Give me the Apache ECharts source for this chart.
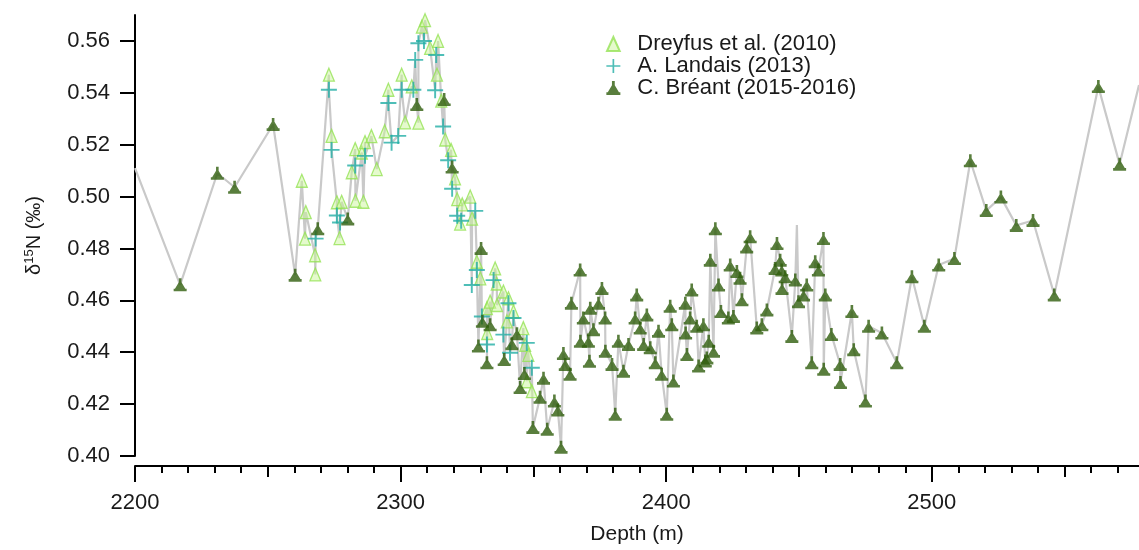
<!DOCTYPE html>
<html><head><meta charset="utf-8">
<script src="https://cdn.jsdelivr.net/npm/echarts@6/dist/echarts.min.js"></script>
<style>html,body{margin:0;padding:0;background:#fff}#c{width:1139px;height:550px}</style>
</head><body><div id="c"></div><script>
// ---- data: [depth (m), d15N (permil)] ----
const dreyfus = [
 [2262.8,0.5061],[2264.0,0.4838],[2264.3,0.494],[2267.8,0.4774],[2267.9,0.470],
 [2273.0,0.547],[2274.0,0.5234],[2276.0,0.4978],[2277.0,0.484],[2277.8,0.498],
 [2281.6,0.5094],[2282.9,0.5183],[2283.0,0.4984],[2285.4,0.517],[2286.0,0.498],
 [2286.6,0.521],[2289.0,0.5233],[2291.0,0.5106],[2294.0,0.5252],[2295.4,0.5412],
 [2300.4,0.547],[2301.7,0.5286],[2304.2,0.5425],[2306.7,0.5285],[2308.0,0.5655],
 [2309.2,0.568],[2311.1,0.5573],[2313.7,0.547],[2314.1,0.560],[2315.3,0.537],
 [2316.8,0.522],[2319.0,0.518],[2320.5,0.507],[2321.3,0.499],[2322.4,0.4896],
 [2323.2,0.497],[2326.2,0.500],[2326.9,0.4915],[2328.7,0.4749],[2330.0,0.4685],
 [2332.5,0.457],[2332.6,0.4474],[2333.7,0.4595],[2335.6,0.4723],[2336.2,0.4665],
 [2336.3,0.4582],[2338.7,0.4634],[2340.0,0.4519],[2340.6,0.4608],[2342.5,0.4557],
 [2346.2,0.4493],[2346.9,0.4429],[2347.5,0.4288],[2348.1,0.439],[2349.4,0.425]
];
const landais = [
 [2268.0,0.4838],[2273.0,0.5412],[2274.0,0.518],[2276.0,0.4927],[2277.2,0.490],
 [2282.9,0.512],[2286.6,0.5157],[2295.4,0.5361],[2296.6,0.5208],[2299.1,0.5234],
 [2300.4,0.5412],[2304.8,0.5412],[2305.5,0.5527],[2306.7,0.5591],[2308.8,0.560],
 [2313.0,0.541],[2313.4,0.5546],[2316.0,0.527],[2317.9,0.514],[2319.4,0.503],
 [2321.3,0.4926],[2322.8,0.4907],[2326.8,0.4659],[2328.1,0.4945],[2328.7,0.4717],
 [2330.6,0.4538],[2332.5,0.443],[2335.0,0.4678],[2338.7,0.4468],[2340.6,0.4589],
 [2341.2,0.4398],[2342.5,0.4532],[2347.5,0.4436],[2349.4,0.434]
];
const breant = [
 [2217.0,0.466],[2231.0,0.509],[2237.5,0.5036],[2252.0,0.5278],[2260.3,0.4697],
 [2268.8,0.4876],[2280.1,0.4914],[2306.1,0.5355],[2316.4,0.5374],[2319.4,0.5114],
 [2329.3,0.4424],[2330.3,0.480],[2330.8,0.4519],[2332.5,0.4359],[2333.7,0.4506],
 [2339.0,0.4372],[2341.9,0.4433],[2343.8,0.4471],[2345.0,0.4264],[2346.6,0.4318],
 [2349.8,0.411],[2352.5,0.4226],[2353.8,0.430],[2355.2,0.4103],[2357.9,0.4212],
 [2359.2,0.4177],[2360.4,0.4034],[2361.3,0.4395],[2362.0,0.4353],[2363.8,0.4315],
 [2364.3,0.4589],[2367.6,0.4717],[2367.7,0.4442],[2368.8,0.4532],[2370.7,0.4442],
 [2371.1,0.4365],[2371.4,0.457],[2372.6,0.4487],[2374.5,0.4589],[2375.8,0.4646],
 [2377.0,0.4532],[2377.1,0.4404],[2379.6,0.4353],[2380.8,0.4161],[2382.0,0.4442],
 [2383.9,0.4327],[2385.8,0.443],[2388.3,0.4532],[2388.9,0.4621],[2390.2,0.4493],
 [2391.5,0.443],[2392.7,0.4544],[2394.0,0.4417],[2395.9,0.4359],[2397.1,0.4481],
 [2398.3,0.4315],[2400.2,0.4161],[2401.5,0.4577],[2402.1,0.4506],[2402.7,0.4289],
 [2407.2,0.4589],[2407.3,0.4474],[2407.8,0.4391],[2409.0,0.4532],[2409.6,0.464],
 [2411.5,0.450],[2412.2,0.4347],[2414.0,0.4506],[2414.7,0.4366],[2415.3,0.4378],
 [2416.0,0.4442],[2416.6,0.4755],[2417.8,0.4404],[2418.5,0.4876],[2419.7,0.4659],
 [2420.6,0.4557],[2423.4,0.4532],[2424.1,0.4736],[2425.3,0.4538],[2426.6,0.4711],
 [2427.8,0.4685],[2428.5,0.4602],[2430.3,0.4806],[2431.6,0.4845],[2434.1,0.4493],
 [2436.0,0.4506],[2437.9,0.4563],[2441.0,0.4723],[2441.7,0.4819],[2442.9,0.4755],
 [2443.5,0.4717],[2443.6,0.4646],[2444.8,0.4691],[2447.3,0.4461],[2448.6,0.4678],
 [2449.8,0.4595],[2451.7,0.4621],[2452.9,0.4659],[2454.8,0.4359],[2456.1,0.4749],
 [2457.3,0.4717],[2459.2,0.4838],[2459.3,0.4334],[2459.9,0.4621],[2462.2,0.4468],
 [2465.5,0.4353],[2465.6,0.4283],[2469.9,0.4557],[2470.6,0.441],[2475.0,0.4212],
 [2476.2,0.450],[2481.2,0.4474],[2486.8,0.4359],[2492.5,0.4691],[2497.2,0.450],
 [2502.6,0.4736],[2508.5,0.4761],[2514.5,0.5138],[2520.5,0.4946],[2526.0,0.4998],
 [2531.8,0.4889],[2538.1,0.4908],[2546.1,0.4621],[2562.7,0.5424],[2570.7,0.5125]
];
// points of the grey connecting line that carry no marker
const lineOnly = [[2200.0,0.511],[2449.2,0.489],[2578.0,0.543]];

const seriesNames = ['Dreyfus et al. (2010)','A. Landais (2013)','C. Br\u00e9ant (2015-2016)'];
const yTicks = [0.40,0.42,0.44,0.46,0.48,0.50,0.52,0.54,0.56];
const xMajor = [2200,2300,2400,2500];
const xMid = [2250,2350,2450,2550];
const xMinor = [];
for (let v = 2210; v < 2578; v += 10) if (v % 50 !== 0) xMinor.push(v);

const allPts = dreyfus.concat(landais, breant, lineOnly).slice().sort((a,b)=>a[0]-b[0]);

const FONT = 'Liberation Sans, Arial, sans-serif';
const TXT = '#1a1a1a';
const chart = echarts.init(document.getElementById('c'), null, {renderer:'canvas'});

function subX(ticks, len){
  return {type:'value', min:2200, max:2578, position:'bottom', offset:10,
    axisLine:{show:false}, splitLine:{show:false},
    axisTick:{show:true, length:len, lineStyle:{color:'#000', width:2}, customValues:ticks},
    axisLabel:{show:false}};
}

chart.setOption({
  animation:false,
  backgroundColor:'#fff',
  grid:{left:135, right:0, top:15, bottom:91, containLabel:false},
  legend:{
    data:seriesNames, orient:'vertical', left:601, top:28, itemGap:0,
    itemWidth:38, itemHeight:14,
    textStyle:{fontFamily:FONT, fontSize:22, color:TXT, lineHeight:22}
  },
  xAxis:[
    {type:'value', min:2200, max:2578, position:'bottom', offset:10,
     axisLine:{show:true, lineStyle:{color:'#000', width:2}},
     splitLine:{show:false},
     axisTick:{show:true, length:16, lineStyle:{color:'#000', width:2}, customValues:xMajor},
     axisLabel:{customValues:xMajor, formatter:v=>String(v), fontFamily:FONT, fontSize:22, color:TXT, margin:26},
     name:'Depth (m)', nameLocation:'middle', nameGap:58,
     nameTextStyle:{fontFamily:FONT, fontSize:21, color:TXT}},
    subX(xMid, 11),
    subX(xMinor, 7)
  ],
  yAxis:{
    type:'value', min:0.40, max:0.57,
    axisLine:{show:true, lineStyle:{color:'#000', width:2}},
    splitLine:{show:false},
    axisTick:{show:true, length:15, lineStyle:{color:'#000', width:2}, customValues:yTicks},
    axisLabel:{customValues:yTicks, formatter:v=>v.toFixed(2), fontFamily:FONT, fontSize:22, color:TXT, margin:25},
    name:'{d|\u03b4}{s|15}{d|N (\u2030)}', nameLocation:'middle', nameRotate:90, nameGap:90,
    nameTextStyle:{rich:{
      d:{fontFamily:FONT, fontSize:20, color:TXT, lineHeight:22},
      s:{fontFamily:FONT, fontSize:13, color:TXT, verticalAlign:'top', lineHeight:22}
    }}
  },
  series:[
    {type:'line', data:allPts, symbol:'none', silent:true, z:1,
     lineStyle:{color:'#c9c9c9', width:2.2}},
    {name:seriesNames[0], type:'scatter', data:dreyfus, z:2,
     symbol:'path://M5,0 L10,11 L0,11 Z', symbolSize:[12,13], symbolKeepAspect:true,
     itemStyle:{color:'rgba(200,245,150,0.6)', borderColor:'#95e255', borderWidth:1.3}},
    {name:seriesNames[1], type:'scatter', data:landais, z:3,
     symbol:'path://M4.4,0 H5.6 V4.4 H10 V5.6 H5.6 V10 H4.4 V5.6 H0 V4.4 H4.4 Z', symbolSize:[16,16],
     symbolKeepAspect:true,
     itemStyle:{color:'#22aea5'}},
    {name:seriesNames[2], type:'scatter', data:breant, z:4,
     symbol:'path://M4,0 L6,0 L6,3 L9,8 L10,8 L10,10 L0,10 L0,8 L1,8 L4,3 Z', symbolSize:[13,13],
     symbolKeepAspect:true,
     itemStyle:{color:'#2f5e0c'}}
  ]
});
</script></body></html>
